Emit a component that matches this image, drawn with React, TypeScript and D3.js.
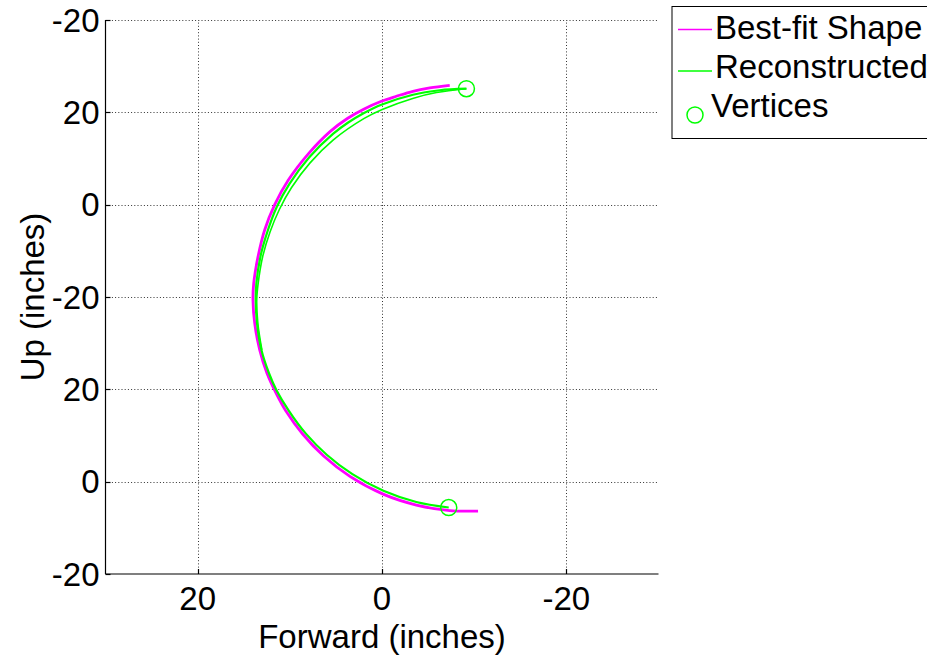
import React from 'react';
import * as d3 from 'd3';

// Axis ticks
const xTicks = [20, 0, -20];
const yTicks = [0, 10, 20, 30, 40, 50, 60];
const yTickLabels = ['-20', '0', '20', '-20', '0', '20', '-20'];

// Best-fit shape (forward, up) in inches, from the upper end to the lower end
const bestFitX = [-7.35, -5.18, -3.36, -1.56, 0.07, 1.99, 3.76, 5.64, 7.97, 10.18, 11.64, 12.73, 13.45, 13.92, 14.0, 13.81, 13.27, 12.49, 11.37, 10.46, 8.63, 6.33, 3.48, -0.18, -3.73, -7.35, -10.42];
const bestFitY = [52.93, 52.64, 52.28, 51.74, 51.2, 50.34, 49.33, 47.91, 45.53, 42.64, 40.0, 37.26, 34.37, 31.48, 29.68, 27.15, 24.26, 21.76, 19.34, 17.71, 15.19, 12.78, 10.57, 8.62, 7.47, 6.86, 6.82];

// Reconstructed shape, full pass between the two vertices
const reconAX = [-9.16, -6.26, -3.36, 0.07, 1.95, 3.71, 5.32, 7.89, 10.04, 11.42, 12.37, 13.19, 13.63, 13.7, 13.56, 13.08, 12.26, 11.46, 10.12, 8.26, 6.0, 3.21, -0.15, -3.72, -7.24];
const reconAY = [52.56, 52.39, 51.91, 50.83, 49.93, 48.87, 47.66, 45.14, 42.26, 39.75, 37.26, 34.37, 31.48, 29.68, 27.15, 24.26, 21.74, 19.93, 17.7, 15.2, 12.92, 10.81, 9.01, 7.8, 7.2];

// Reconstructed shape, second pass over the upper section
const reconBX = [-9.16, -5.91, -3.33, -0.02, 1.93, 5.31, 7.83, 9.83, 11.15, 12.14, 12.95, 13.43, 13.59, 13.47, 13.03];
const reconBY = [52.56, 52.14, 51.51, 50.31, 49.34, 46.99, 44.5, 41.83, 39.45, 37.06, 34.36, 31.52, 29.68, 27.15, 24.26];

// Vertices
const vertexX = [-9.16, -7.24];
const vertexY = [52.56, 7.2];

const W = 927;
const H = 657;
const left = 105.5;
const right = 658.5;
const top = 20;
const bottom = 574;

const font = '"Liberation Sans", Arial, Helvetica, sans-serif';
const FS = 33;
const MAGENTA = '#ff00ff';
const GREEN = '#00ff00';

export default function App() {
  const x = d3.scaleLinear().domain([30, -30]).range([left, right]);
  const y = d3.scaleLinear().domain([0, 60]).range([bottom, top]);

  const toPts = (xs: number[], ys: number[]) => xs.map((v, i) => [v, ys[i]] as [number, number]);
  const line = d3
    .line<[number, number]>()
    .x((d) => x(d[0]))
    .y((d) => y(d[1]))
    .curve(d3.curveCatmullRom.alpha(0.5));

  const bestFit = line(toPts(bestFitX, bestFitY)) || '';
  const reconA = line(toPts(reconAX, reconAY)) || '';
  const reconB = line(toPts(reconBX, reconBY)) || '';

  const tickLen = 5;

  return (
    <svg
      width={W}
      height={H}
      style={{ position: 'absolute', left: 0, top: 0, background: '#fff' }}
      fontFamily={font}
    >
      <rect x={0} y={0} width={W} height={H} fill="#fff" />

      {/* grid */}
      <g stroke="#333" strokeWidth={1} strokeDasharray="1,2.2" fill="none">
        {xTicks.map((t) => (
          <line key={'gx' + t} x1={Math.round(x(t)) + 0.5} x2={Math.round(x(t)) + 0.5} y1={bottom} y2={top} />
        ))}
        {yTicks.filter((t) => t !== 0).map((t) => (
          <line key={'gy' + t} x1={left} x2={right} y1={Math.round(y(t)) + 0.5} y2={Math.round(y(t)) + 0.5} />
        ))}
      </g>

      {/* axes */}
      <g stroke="#000" strokeWidth={1.2} fill="none">
        <line x1={left} x2={left} y1={top} y2={bottom} />
        <line x1={left} x2={right} y1={bottom} y2={bottom} />
        {yTicks.map((t) => (
          <line key={'ty' + t} x1={left} x2={left + tickLen} y1={Math.round(y(t)) + 0.5} y2={Math.round(y(t)) + 0.5} />
        ))}
        {xTicks.map((t) => (
          <line key={'tx' + t} x1={Math.round(x(t)) + 0.5} x2={Math.round(x(t)) + 0.5} y1={bottom} y2={bottom - tickLen} />
        ))}
      </g>

      {/* tick labels */}
      <g fontSize={FS} fill="#000">
        {yTicks.map((t, i) => (
          <text key={'ly' + t} x={left - 6} y={y(t) + 11.5} textAnchor="end">
            {yTickLabels[i]}
          </text>
        ))}
        {xTicks.map((t) => (
          <text key={'lx' + t} x={x(t)} y={609.5} textAnchor="middle">
            {String(t)}
          </text>
        ))}
      </g>

      {/* axis titles */}
      <text x={(left + right) / 2} y={648} fontSize={FS} textAnchor="middle" fill="#000">
        Forward (inches)
      </text>
      <text transform={`translate(43.5, ${(top + bottom) / 2}) rotate(-90)`} fontSize={FS} textAnchor="middle" fill="#000">
        Up (inches)
      </text>

      {/* curves */}
      <path d={bestFit} fill="none" stroke={MAGENTA} strokeWidth={2.8} strokeLinejoin="round" />
      <path d={reconA} fill="none" stroke={GREEN} strokeWidth={2.2} strokeLinejoin="round" />
      <path d={reconB} fill="none" stroke={GREEN} strokeWidth={1.6} strokeLinejoin="round" />
      {vertexX.map((v, i) => (
        <circle key={'v' + i} cx={x(v)} cy={y(vertexY[i])} r={8} fill="none" stroke={GREEN} strokeWidth={1.5} />
      ))}

      {/* legend */}
      <g>
        <rect x={672} y={6.5} width={270} height={132} fill="#fff" stroke="#000" strokeWidth={1} />
        <line x1={678} x2={712} y1={29.5} y2={29.5} stroke={MAGENTA} strokeWidth={1.5} />
        <text x={715} y={38.5} fontSize={FS} fill="#000">Best-fit Shape</text>
        <line x1={678} x2={712} y1={71} y2={71} stroke={GREEN} strokeWidth={1.5} />
        <text x={715} y={77.5} fontSize={FS} fill="#000">Reconstructed</text>
        <circle cx={695} cy={115} r={8} fill="none" stroke={GREEN} strokeWidth={1.5} />
        <text x={711} y={116.5} fontSize={FS} fill="#000">Vertices</text>
      </g>
    </svg>
  );
}
